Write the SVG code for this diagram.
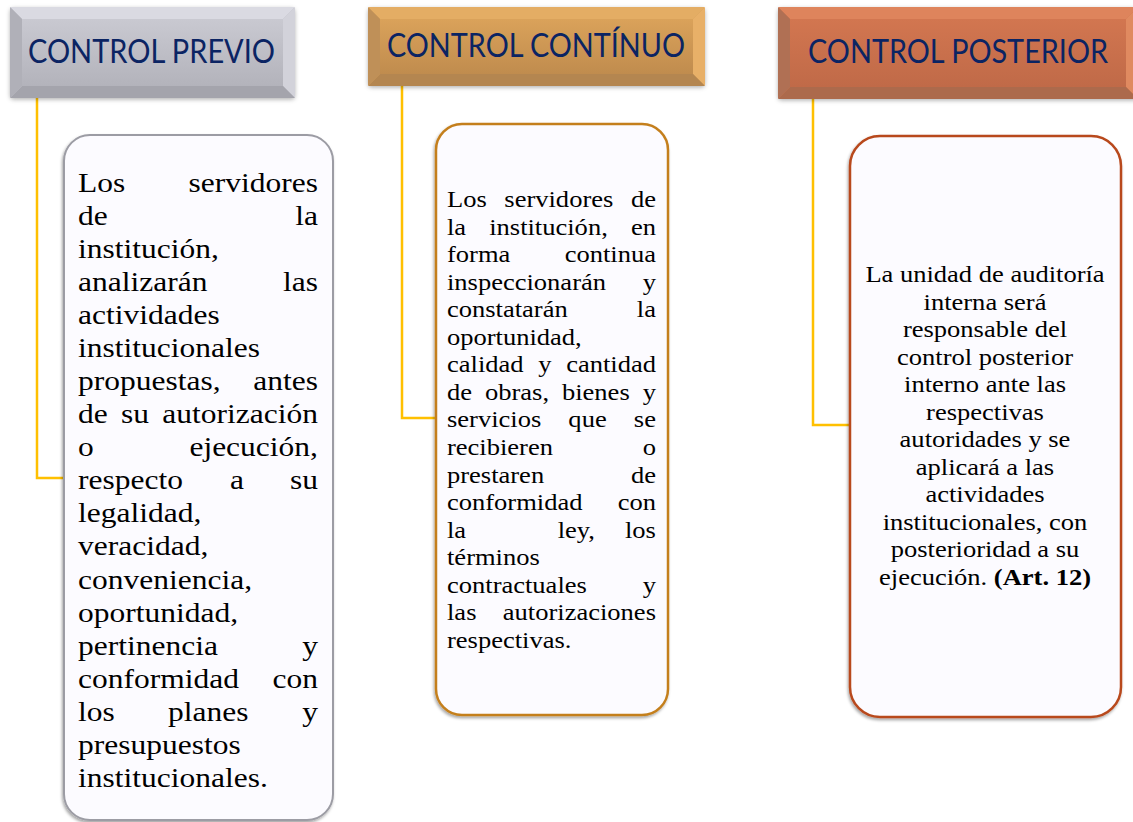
<svg xmlns="http://www.w3.org/2000/svg" width="1133" height="822" viewBox="0 0 1133 822">
<defs>
<style>
.hd{font-family:Lato,"Open Sans","Liberation Sans",sans-serif;font-size:32px;fill:#0b2463}
.t{font-family:"Liberation Serif",Tinos,"Times New Roman",Times,serif;fill:#000}
.b1{font-size:28px}
.b2{font-size:24px}
.e{text-anchor:end}
.m{text-anchor:middle}
.conn{fill:none;stroke:#FFC000;stroke-width:2.5}
.box{fill:#fcfbff}
</style>
<filter id="hs" x="-10%" y="-20%" width="120%" height="150%">
<feDropShadow dx="0" dy="1.5" stdDeviation="2" flood-color="#000" flood-opacity="0.3"/>
</filter>
<filter id="bs" x="-10%" y="-10%" width="120%" height="120%">
<feDropShadow dx="-1" dy="2" stdDeviation="1.5" flood-color="#000" flood-opacity="0.35"/>
</filter>
<linearGradient id="gFace" x1="0" y1="0" x2="0" y2="1"><stop offset="0" stop-color="#c9c9d1"/><stop offset="1" stop-color="#b3b3bb"/></linearGradient>
<linearGradient id="oFace" x1="0" y1="0" x2="0" y2="1"><stop offset="0" stop-color="#daa25a"/><stop offset="1" stop-color="#c08c4e"/></linearGradient>
<linearGradient id="rFace" x1="0" y1="0" x2="0" y2="1"><stop offset="0" stop-color="#d27650"/><stop offset="1" stop-color="#c06a48"/></linearGradient>
</defs>

<g id="connectors">
<path class="conn" d="M37 98 V478 H64"/>
<path class="conn" d="M402 86 V418 H436"/>
<path class="conn" d="M813 99 V425 H850"/>
</g>

<g id="header-previo">
<g filter="url(#hs)">
<rect x="10" y="7" width="285" height="91" rx="4" fill="#c0c0c8"/>
</g>
<polygon points="10,7 295,7 283,19 22,19" fill="#dadae2"/>
<polygon points="295,7 295,98 283,86 283,19" fill="#d2d2da"/>
<polygon points="295,98 10,98 22,86 283,86" fill="#a4a4ac"/>
<polygon points="10,98 10,7 22,19 22,86" fill="#b0b0b8"/>
<rect x="22" y="19" width="261" height="67" fill="url(#gFace)"/>
<text class="hd" x="28" y="63" textLength="247" lengthAdjust="spacingAndGlyphs">CONTROL PREVIO</text>
</g>

<g id="header-continuo">
<g filter="url(#hs)">
<rect x="368" y="7" width="337" height="79" rx="4" fill="#d09a55"/>
</g>
<polygon points="368,7 705,7 693,19 380,19" fill="#e4ad64"/>
<polygon points="705,7 705,86 693,74 693,19" fill="#e8b068"/>
<polygon points="705,86 368,86 380,74 693,74" fill="#b48650"/>
<polygon points="368,86 368,7 380,19 380,74" fill="#bf9058"/>
<rect x="380" y="19" width="313" height="55" fill="url(#oFace)"/>
<text class="hd" x="387" y="57" textLength="298" lengthAdjust="spacingAndGlyphs">CONTROL CONTÍNUO</text>
</g>

<g id="header-posterior">
<g filter="url(#hs)">
<rect x="778" y="7" width="360" height="92" rx="4" fill="#cc724c"/>
</g>
<polygon points="778,7 1138,7 1126,19 790,19" fill="#de845c"/>
<polygon points="1138,7 1138,99 1126,87 1126,19" fill="#e08a60"/>
<polygon points="1138,99 778,99 790,87 1126,87" fill="#ac6a4c"/>
<polygon points="778,99 778,7 790,19 790,87" fill="#b07054"/>
<rect x="790" y="19" width="336" height="68" fill="url(#rFace)"/>
<text class="hd" x="808" y="63" textLength="300" lengthAdjust="spacingAndGlyphs">CONTROL POSTERIOR</text>
</g>

<g id="box-previo">
<rect class="box" x="64" y="135" width="269" height="685" rx="26" stroke="#9c9ca4" stroke-width="2" filter="url(#bs)"/>
<g class="t b1" transform="translate(78 0) scale(1.125 1)">
<text x="0" y="192">Los</text><text class="e" x="213.3" y="192">servidores</text>
<text x="0" y="225">de</text><text class="e" x="213.3" y="225">la</text>
<text x="0" y="258">institución,</text>
<text x="0" y="291">analizarán</text><text class="e" x="213.3" y="291">las</text>
<text x="0" y="324">actividades</text>
<text x="0" y="357">institucionales</text>
<text x="0" y="390">propuestas,</text><text class="e" x="213.3" y="390">antes</text>
<text x="0" y="423">de</text><text x="38.2" y="423">su</text><text class="e" x="213.3" y="423">autorización</text>
<text x="0" y="456">o</text><text class="e" x="213.3" y="456">ejecución,</text>
<text x="0" y="489.5">respecto</text><text x="135.1" y="489.5">a</text><text class="e" x="213.3" y="489.5">su</text>
<text x="0" y="522.5">legalidad,</text>
<text x="0" y="555.5">veracidad,</text>
<text x="0" y="588.6">conveniencia,</text>
<text x="0" y="621.6">oportunidad,</text>
<text x="0" y="654.7">pertinencia</text><text class="e" x="213.3" y="654.7">y</text>
<text x="0" y="687.7">conformidad</text><text class="e" x="213.3" y="687.7">con</text>
<text x="0" y="720.8">los</text><text x="80" y="720.8">planes</text><text class="e" x="213.3" y="720.8">y</text>
<text x="0" y="753.8">presupuestos</text>
<text x="0" y="786.9">institucionales.</text>
</g>
</g>

<g id="box-continuo">
<rect class="box" x="436" y="124" width="232" height="591" rx="26" stroke="#c47f1e" stroke-width="2.5" filter="url(#bs)"/>
<g class="t b2" transform="translate(447 0) scale(1.105 1)">
<text x="0" y="207">Los</text><text x="51.9" y="207">servidores</text><text class="e" x="189.1" y="207">de</text>
<text x="0" y="234.6">la</text><text x="38.2" y="234.6">institución,</text><text class="e" x="189.1" y="234.6">en</text>
<text x="0" y="262.1">forma</text><text class="e" x="189.1" y="262.1">continua</text>
<text x="0" y="289.7">inspeccionarán</text><text class="e" x="189.1" y="289.7">y</text>
<text x="0" y="317.2">constatarán</text><text class="e" x="189.1" y="317.2">la</text>
<text x="0" y="344.8">oportunidad,</text>
<text x="0" y="372.4">calidad</text><text x="82.55" y="372.4">y</text><text class="e" x="189.1" y="372.4">cantidad</text>
<text x="0" y="399.9">de</text><text x="34.36" y="399.9">obras,</text><text x="104.06" y="399.9">bienes</text><text class="e" x="189.1" y="399.9">y</text>
<text x="0" y="427.5">servicios</text><text x="109.85" y="427.5">que</text><text class="e" x="189.1" y="427.5">se</text>
<text x="0" y="455">recibieren</text><text class="e" x="189.1" y="455">o</text>
<text x="0" y="482.6">prestaren</text><text class="e" x="189.1" y="482.6">de</text>
<text x="0" y="510.2">conformidad</text><text class="e" x="189.1" y="510.2">con</text>
<text x="0" y="537.7">la</text><text x="100.2" y="537.7">ley,</text><text class="e" x="189.1" y="537.7">los</text>
<text x="0" y="565.3">términos</text>
<text x="0" y="592.8">contractuales</text><text class="e" x="189.1" y="592.8">y</text>
<text x="0" y="620.4">las</text><text class="e" x="189.1" y="620.4">autorizaciones</text>
<text x="0" y="648">respectivas.</text>
</g>
</g>

<g id="box-posterior">
<rect class="box" x="850" y="136" width="271" height="581" rx="30" stroke="#b8481c" stroke-width="2.5" filter="url(#bs)"/>
<g class="t b2 m" transform="translate(985 0) scale(1.105 1)">
<text x="0" y="282">La unidad de auditoría</text>
<text x="0" y="309.55">interna será</text>
<text x="0" y="337.1">responsable del</text>
<text x="0" y="364.65">control posterior</text>
<text x="0" y="392.2">interno ante las</text>
<text x="0" y="419.75">respectivas</text>
<text x="0" y="447.3">autoridades y se</text>
<text x="0" y="474.85">aplicará a las</text>
<text x="0" y="502.4">actividades</text>
<text x="0" y="529.95">institucionales, con</text>
<text x="0" y="557.5">posterioridad a su</text>
<text x="0" y="585.05">ejecución. <tspan font-weight="bold">(Art. 12)</tspan></text>
</g>
</g>
</svg>
